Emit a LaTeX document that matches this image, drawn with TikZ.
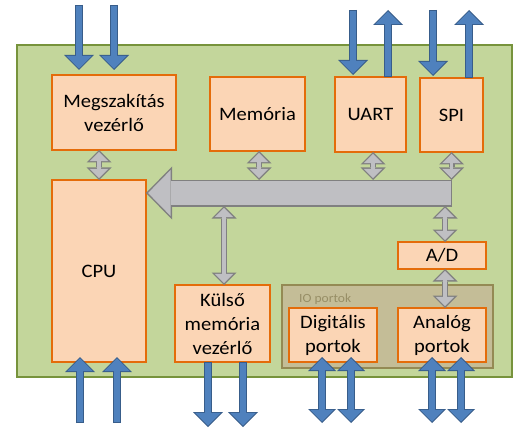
\documentclass[tikz,border=0pt]{standalone}
\usepackage{fontspec}
\setmainfont{Carlito}[FakeStretch=1.08]
\usetikzlibrary{arrows.meta}
\definecolor{greenfill}{HTML}{C3D69B}
\definecolor{greenline}{HTML}{77933C}
\definecolor{boxfill}{HTML}{FBD5B5}
\definecolor{boxline}{HTML}{E46C0A}
\definecolor{tanfill}{HTML}{C4BD97}
\definecolor{tanline}{HTML}{948A54}
\definecolor{tantext}{HTML}{978E66}
\definecolor{bluefill}{HTML}{4F81BD}
\definecolor{blueline}{HTML}{385D8A}
\definecolor{grayfill}{HTML}{BFBFC3}
\definecolor{grayline}{HTML}{808080}
\begin{document}
\begin{tikzpicture}[x=1pt,y=-1pt,
  blk/.style={draw=boxline, fill=boxfill, line width=1.8pt, inner sep=0pt, outer sep=0pt,
    align=center, font=\fontsize{19}{24}\selectfont},
  bluesingle/.style={draw=blueline, line width=8pt, shorten >=#1,
    -{Triangle[width=30pt,length=15pt,line width=0pt]},
    postaction={draw=bluefill, line width=6pt, shorten <=1pt, shorten >={#1+1.41pt},
      -{Triangle[width=25.2pt,length=12.6pt,line width=0pt]}}},
  bluesingle/.default=0pt,
  bluedouble/.style={draw=blueline, line width=8pt, shorten <=#1,
    {Triangle[width=28pt,length=14pt,line width=0pt]}-{Triangle[width=28pt,length=14pt,line width=0pt]},
    postaction={draw=bluefill, line width=6pt, shorten <={#1+1.41pt}, shorten >=1.41pt,
      {Triangle[width=23.2pt,length=11.6pt,line width=0pt]}-{Triangle[width=23.2pt,length=11.6pt,line width=0pt]}}},
  bluedouble/.default=0pt,
  grayarr/.style={draw=grayline, line width=6pt,
    {Triangle[width=25pt,length=12.5pt,line width=0pt]}-{Triangle[width=25pt,length=12.5pt,line width=0pt]},
    postaction={draw=grayfill, line width=3.4pt, shorten <=1.84pt, shorten >=1.84pt,
      {Triangle[width=18.8pt,length=9.4pt,line width=0pt]}-{Triangle[width=18.8pt,length=9.4pt,line width=0pt]}}},
  busarr/.style={draw=grayline, line width=27pt,
    -{Triangle[width=53pt,length=26pt,line width=0pt]},
    postaction={draw=grayfill, line width=24pt, shorten <=1.5pt, shorten >=2.1pt,
      -{Triangle[width=45.7pt,length=22.4pt,line width=0pt]}}}
]
\useasboundingbox (0,0) rectangle (531,436);
% chip background
\node[draw=greenline, fill=greenfill, line width=2pt, minimum width=495pt, minimum height=332pt,
  inner sep=0pt, outer sep=0pt] (chip) at (264.5,211) {};
% IO group
\node[draw=tanline, fill=tanfill, line width=2pt, minimum width=211pt, minimum height=83pt,
  inner sep=0pt, outer sep=0pt] (io) at (387.5,326.5) {};
\node[anchor=base west, text=tantext, inner sep=0pt, font=\fontsize{12.5}{14}\selectfont]
  (iolabel) at (299,302) {IO portok};
% blocks
\node[blk, minimum width=124pt, minimum height=75pt] (megsz) at (114,112.5) {Megszakítás\\vezérlő};
\node[blk, minimum width=95pt, minimum height=74pt] (mem) at (257.5,114) {Memória};
\node[blk, minimum width=71pt, minimum height=75pt] (uart) at (370.5,114.5) {UART};
\node[blk, minimum width=63pt, minimum height=74pt] (spi) at (451.5,115) {SPI};
\node[blk, minimum width=94pt, minimum height=182pt] (cpu) at (99,271) {CPU};
\node[blk, minimum width=95pt, minimum height=77pt] (kulso) at (222.5,323.5) {Külső\\memória\\vezérlő};
\node[blk, minimum width=88pt, minimum height=54pt] (dig) at (333,335) {Digitális\\portok};
\node[blk, minimum width=88pt, minimum height=54pt] (ana) at (442,335) {Analóg\\portok};
\node[blk, minimum width=88pt, minimum height=27pt] (ad) at (442,255.5) {A/D};
% bus
\coordinate (busR) at (452,193);
\coordinate (bustop) at (0,180);
\coordinate (busbot) at (0,206);
\draw[busarr] (busR) -- (cpu.east |- busR);
% internal gray arrows
\draw[grayarr] (megsz.south -| cpu.north) -- (cpu.north);
\draw[grayarr] ([xshift=1.5pt]mem.south) -- ([xshift=1.5pt]mem.south |- bustop);
\draw[grayarr] ([xshift=2.5pt]uart.south) -- ([xshift=2.5pt]uart.south |- bustop);
\draw[grayarr] (spi.south) -- (spi.south |- bustop);
\draw[grayarr] ([xshift=3pt]ad.north |- busbot) -- ([xshift=3pt]ad.north);
\draw[grayarr] ([xshift=3pt]ad.south) -- ([xshift=3pt]ana.north);
\draw[grayarr] ([xshift=1.5pt]kulso.north |- busbot) -- ([xshift=1.5pt]kulso.north);
% external blue arrows
\coordinate (m1) at (79,5);
\coordinate (m2) at (114,5);
\coordinate (u1) at (353,10);
\coordinate (u2) at (388,10);
\coordinate (s1) at (433,10);
\coordinate (s2) at (469,10);
\coordinate (c1) at (80,423);
\coordinate (c2) at (117,423);
\coordinate (k1) at (208,427);
\coordinate (k2) at (243,427);
\coordinate (d1) at (322,423);
\coordinate (d2) at (351,423);
\coordinate (a1) at (432,423);
\coordinate (a2) at (461,423);
\draw[bluesingle=5pt] (m1) -- (m1 |- megsz.north);
\draw[bluesingle=5pt] (m2) -- (m2 |- megsz.north);
\draw[bluesingle=2pt] (u1) -- (u1 |- uart.north);
\draw[bluesingle] (u2 |- uart.north) -- (u2);
\draw[bluesingle=2pt] (s1) -- (s1 |- spi.north);
\draw[bluesingle] (s2 |- spi.north) -- (s2);
\draw[bluesingle=-5pt] (c1) -- (c1 |- cpu.south);
\draw[bluesingle=-5pt] (c2) -- (c2 |- cpu.south);
\draw[bluesingle] (k1 |- kulso.south) -- (k1);
\draw[bluesingle] (k2 |- kulso.south) -- (k2);
\draw[bluedouble=-5pt] (d1 |- dig.south) -- (d1);
\draw[bluedouble=-5pt] (d2 |- dig.south) -- (d2);
\draw[bluedouble=-5pt] (a1 |- ana.south) -- (a1);
\draw[bluedouble=-5pt] (a2 |- ana.south) -- (a2);
\end{tikzpicture}
\end{document}
